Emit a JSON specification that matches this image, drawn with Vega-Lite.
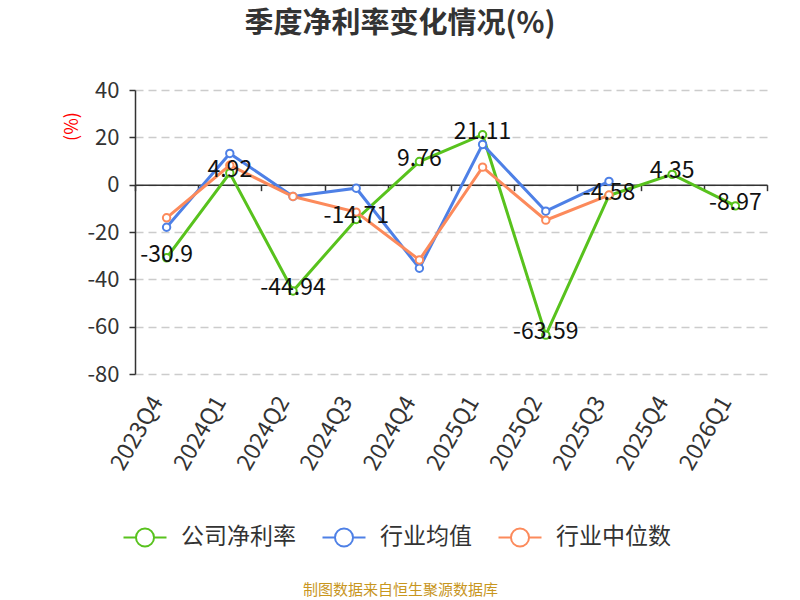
{
  "$schema": "https://vega.github.io/schema/vega-lite/v6.json",
  "width": 632,
  "height": 284,
  "autosize": "none",
  "padding": {"left": 135, "top": 90, "right": 33, "bottom": 226},
  "background": "white",
  "title": {
    "text": "季度净利率变化情况(%)",
    "fontSize": 29,
    "fontWeight": "bold",
    "color": "#333333",
    "font": "Noto Sans CJK SC",
    "anchor": "middle",
    "baseline": "bottom",
    "dx": -51,
    "offset": 11
  },
  "data": {
    "values": [
      {"q": "2023Q4", "series": "公司净利率", "value": -30.9},
      {"q": "2024Q1", "series": "公司净利率", "value": 4.92},
      {"q": "2024Q2", "series": "公司净利率", "value": -44.94},
      {"q": "2024Q3", "series": "公司净利率", "value": -14.71},
      {"q": "2024Q4", "series": "公司净利率", "value": 9.76},
      {"q": "2025Q1", "series": "公司净利率", "value": 21.11},
      {"q": "2025Q2", "series": "公司净利率", "value": -63.59},
      {"q": "2025Q3", "series": "公司净利率", "value": -4.58},
      {"q": "2025Q4", "series": "公司净利率", "value": 4.35},
      {"q": "2026Q1", "series": "公司净利率", "value": -8.97},
      {"q": "2023Q4", "series": "行业均值", "value": -18.0},
      {"q": "2024Q1", "series": "行业均值", "value": 13.2},
      {"q": "2024Q2", "series": "行业均值", "value": -5.0},
      {"q": "2024Q3", "series": "行业均值", "value": -1.5},
      {"q": "2024Q4", "series": "行业均值", "value": -35.3},
      {"q": "2025Q1", "series": "行业均值", "value": 17.0},
      {"q": "2025Q2", "series": "行业均值", "value": -11.2},
      {"q": "2025Q3", "series": "行业均值", "value": 1.4},
      {"q": "2023Q4", "series": "行业中位数", "value": -14.0},
      {"q": "2024Q1", "series": "行业中位数", "value": 8.2},
      {"q": "2024Q2", "series": "行业中位数", "value": -5.0},
      {"q": "2024Q3", "series": "行业中位数", "value": -11.6},
      {"q": "2024Q4", "series": "行业中位数", "value": -31.8},
      {"q": "2025Q1", "series": "行业中位数", "value": 7.4},
      {"q": "2025Q2", "series": "行业中位数", "value": -15.0},
      {"q": "2025Q3", "series": "行业中位数", "value": -4.4}
    ]
  },
  "layer": [
    {
      "mark": {"type": "line", "strokeWidth": 3},
      "encoding": {
        "x": {
          "field": "q",
          "type": "ordinal",
          "bandPosition": 0.5,
          "scale": {"type": "band", "paddingInner": 0, "paddingOuter": 0},
          "axis": {
            "domain": false,
            "ticks": false,
            "labelAngle": -60,
            "labelAlign": "right",
            "labelBaseline": "middle",
            "labelFontSize": 23,
            "labelColor": "#333333",
            "labelPadding": 24,
            "labelOffset": -9,
            "labelFont": "Noto Sans CJK SC",
            "title": "制图数据来自恒生聚源数据库",
            "titleFont": "Noto Sans CJK SC",
            "titleFontSize": 15,
            "titleFontWeight": "normal",
            "titleColor": "#c8961e",
            "titleX": 265,
            "titleY": 215,
            "titleAnchor": "middle",
            "titleBaseline": "middle"
          }
        },
        "y": {
          "field": "value",
          "type": "quantitative",
          "scale": {"domain": [-80, 40], "nice": false, "zero": false},
          "axis": {
            "values": [-80, -60, -40, -20, 0, 20, 40],
            "labelExpr": "datum.value + ''",
            "domainColor": "#333333",
            "domainWidth": 1.5,
            "tickColor": "#333333",
            "tickSize": 6,
            "tickWidth": 1.5,
            "labelFontSize": 22,
            "labelColor": "#333333",
            "labelFont": "Noto Sans CJK SC",
            "labelPadding": 10,
            "gridColor": "#cccccc",
            "gridDash": [8, 5],
            "gridWidth": 1.5,
            "title": "(%)",
            "titleColor": "#ff0000",
            "titleFont": "Noto Sans CJK SC",
            "titleFontSize": 18,
            "titleFontWeight": "normal",
            "titleAngle": -90,
            "titleX": -63,
            "titleY": 36,
            "titleAnchor": "middle",
            "titleBaseline": "middle"
          }
        },
        "color": {
          "field": "series",
          "type": "nominal",
          "scale": {
            "domain": ["公司净利率", "行业均值", "行业中位数"],
            "range": ["#58c21d", "#4e80e6", "#fc8a5b"]
          },
          "legend": {
            "orient": "none",
            "direction": "horizontal",
            "legendX": -13,
            "legendY": 424,
            "title": null,
            "symbolType": "M-1,0L-0.42,0M0.42,0L1,0M0.42,0A0.42,0.42,0,1,1,-0.42,0A0.42,0.42,0,1,1,0.42,0",
            "symbolSize": 1850,
            "symbolStrokeWidth": 2,
            "symbolFillColor": "white",
            "labelFontSize": 23,
            "labelColor": "#333333",
            "labelFont": "Noto Sans CJK SC",
            "labelOffset": 13,
            "columnPadding": 22,
            "labelLimit": 300,
            "encode": {"symbols": {"update": {"fill": {"value": "white"}}}}
          }
        }
      }
    },
    {
      "mark": {"type": "point", "filled": true, "fill": "white", "strokeWidth": 2, "size": 55, "opacity": 1},
      "encoding": {
        "x": {
          "field": "q",
          "type": "ordinal",
          "bandPosition": 0.5,
          "axis": {
            "orient": "top",
            "labels": false,
            "title": null,
            "domain": true,
            "domainColor": "#333333",
            "domainWidth": 1.5,
            "ticks": true,
            "tickBand": "extent",
            "tickColor": "#333333",
            "tickSize": -6,
            "tickWidth": 1.5,
            "offset": -94.67
          }
        },
        "y": {"field": "value", "type": "quantitative"},
        "stroke": {"field": "series", "type": "nominal", "legend": null,
          "scale": {
            "domain": ["公司净利率", "行业均值", "行业中位数"],
            "range": ["#58c21d", "#4e80e6", "#fc8a5b"]
          }
        }
      }
    },
    {
      "transform": [{"filter": "datum.series === '公司净利率'"}],
      "mark": {"type": "text", "fontSize": 23, "font": "Noto Sans CJK SC", "color": "#111111", "baseline": "middle", "dy": -3},
      "encoding": {
        "x": {"field": "q", "type": "ordinal", "bandPosition": 0.5, "axis": null},
        "y": {"field": "value", "type": "quantitative"},
        "text": {"field": "value", "type": "nominal"}
      }
    }
  ],
  "resolve": {"axis": {"x": "independent"}},
  "config": {
    "view": {"stroke": null}
  }
}
